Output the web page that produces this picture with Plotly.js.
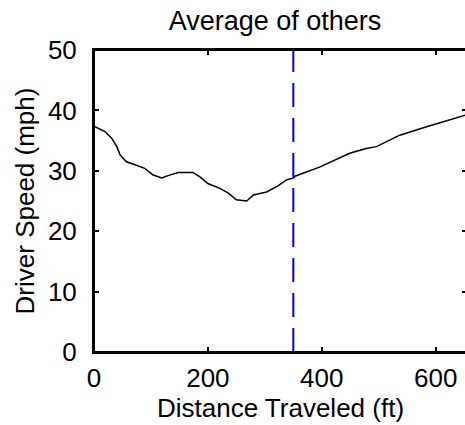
<!DOCTYPE html>
<html>
<head>
<meta charset="utf-8">
<script src="https://cdn.plot.ly/plotly-3.0.1.min.js"></script>
<style>html,body{margin:0;padding:0;overflow:hidden;background:#fff;}</style>
</head>
<body>
<div id="chart"></div>
<script>
const distanceFt = [0, 19, 31, 40, 46, 57, 72, 89, 104, 119, 130, 148, 174, 186, 200, 221, 236, 250, 268, 280, 303, 323, 338, 350, 353, 396, 449, 478, 496, 537, 584, 625, 655];
const speedMph  = [37.4, 36.5, 35.4, 34.0, 32.6, 31.5, 31.0, 30.4, 29.3, 28.8, 29.2, 29.7, 29.7, 29.0, 27.9, 27.1, 26.3, 25.2, 25.0, 26.0, 26.5, 27.5, 28.5, 28.8, 29.1, 30.6, 32.9, 33.7, 34.0, 35.9, 37.3, 38.5, 39.3];
const markerX = [350, 350];
const markerY = [0, 50];
const xTicks = [0, 200, 400, 600];
const yTicks = [0, 10, 20, 30, 40, 50];

const font = {family: 'Liberation Sans, Arial, sans-serif', size: 26, color: '#000'};
const titleFont = {family: 'Liberation Sans, Arial, sans-serif', size: 27, color: '#000'};

Plotly.newPlot('chart', [
  {x: distanceFt, y: speedMph, mode: 'lines', line: {color: '#000', width: 1.5}, hoverinfo: 'none'},
  {x: markerX, y: markerY, mode: 'lines', line: {color: '#0000ff', width: 2, dash: '24px,11px'}, hoverinfo: 'none'}
], {
  width: 468, height: 425,
  margin: {l: 94, r: 1, t: 50, b: 73},
  paper_bgcolor: '#fff', plot_bgcolor: '#fff',
  showlegend: false,
  font: font,
  title: {text: 'Average of others', font: titleFont, x: 0.5876, xanchor: 'center', y: 0.952, yanchor: 'middle'},
  shapes: [{type: 'rect', xref: 'paper', yref: 'paper', x0: 0, x1: 1, y0: 0, y1: 1, line: {color: '#000', width: 2}, layer: 'above'}],
  xaxis: {
    range: [0, 655], tickvals: xTicks, ticktext: xTicks.map(String),
    showgrid: false, zeroline: false, showline: true, linecolor: '#000', linewidth: 2,
    mirror: 'allticks', ticks: 'inside', ticklen: 5, tickcolor: '#000', tickwidth: 2,
    tickfont: font, ticklabelstandoff: 2,
    title: {text: 'Distance Traveled (ft)', font: font, standoff: 4}
  },
  yaxis: {
    range: [0, 50], tickvals: yTicks, ticktext: yTicks.map(String),
    showgrid: false, zeroline: false, showline: true, linecolor: '#000', linewidth: 2,
    mirror: 'allticks', ticks: 'inside', ticklen: 5, tickcolor: '#000', tickwidth: 2,
    tickfont: font, ticklabelstandoff: 10,
    title: {text: 'Driver Speed (mph)', font: font, standoff: 6}
  }
}, {staticPlot: true});
</script>
</body>
</html>
